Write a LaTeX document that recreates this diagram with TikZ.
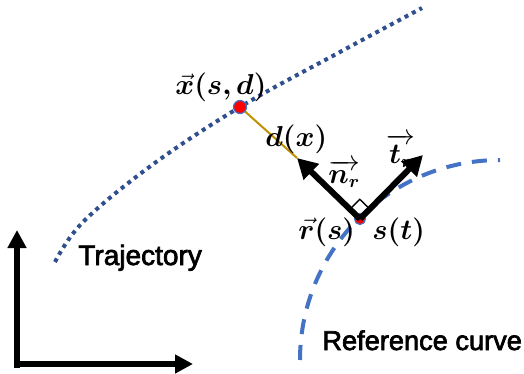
\documentclass[tikz,border=0pt]{standalone}
\usepackage{fontspec}
\setmainfont{Liberation Sans}
\newfontfamily\labelsans{Liberation Sans}[FakeBold=2.5]
\usepackage{amsmath,bm}
\usetikzlibrary{arrows.meta,calc}
\definecolor{trajblue}{HTML}{2F4F8F}
\definecolor{refblue}{HTML}{4472C4}
\definecolor{dgold}{HTML}{BF9000}
\begin{document}
\begin{tikzpicture}[x=0.5pt,y=-0.5pt,
 axis/.style={line width=3pt,-{Triangle[width=9pt,length=9pt]}},
 vecarrow/.style={line width=3pt,-{Triangle[width=10.5pt,length=10pt]}},
 traj/.style={color=trajblue,line width=2pt,dash pattern=on 2pt off 2.15pt},
 refc/.style={color=refblue,line width=2pt,dash pattern=on 7.5pt off 5.5pt},
 dline/.style={color=dgold,line width=1pt},
 ptbig/.style={circle,fill=red,draw=refblue,line width=0.6pt,inner sep=0pt,minimum size=6.5pt},
 ptsmall/.style={circle,fill=red,draw=refblue,line width=0.6pt,inner sep=0pt,minimum size=5.5pt},
 lab/.style={font=\fontsize{13.3}{15}\selectfont, inner sep=0pt, anchor=base west},
 txt/.style={inner sep=0pt, anchor=base west}]
\useasboundingbox (0,0) rectangle (524,374);

% axes
\coordinate (O1) at (17,368);
\coordinate (Ytip) at (17,230);
\coordinate (O2) at (14,364);
\coordinate (Xtip) at (193,364);
\draw[axis] (O1) -- (Ytip);
\draw[axis] (O2) -- (Xtip);

% trajectory
\draw[traj] plot[smooth,tension=0.6] coordinates {(55,262) (83,222) (152,165) (240,107) (340,52) (422,8)};

% reference curve
\coordinate (Rstart) at (300,360);
\draw[refc] (Rstart) arc[start angle=180,end angle=270,radius=200];

% points
\coordinate (X) at (240,107);
\coordinate (ntip) at (297,158);
\coordinate (ttip) at (423,155);
\draw[dline] (X) -- (ntip);
\node[ptbig] (Xdot) at (X) {};
\node[ptsmall] (S) at (360,219) {};

\draw[vecarrow] (S.center) -- (ntip);
\draw[vecarrow] (S.center) -- (ttip);

% right angle mark
\coordinate (c1) at ($(S.center)!7pt!(ntip)$);
\coordinate (c2) at ($(S.center)!7pt!(ttip)$);
\coordinate (c3) at ($(c1)+(c2)-(S.center)$);
\draw[line width=0.7pt] (c1) -- (c3) -- (c2);

% labels
\node[lab] (lx) at (175,95) {$\vec{\bm{x}}\bm{(s,d)}$};
\node[lab] (ld) at (265,147) {$\bm{d(x)}$};
\node[lab] (ln) at (328,183) {$\overrightarrow{\bm{n}_{\bm{r}}}$};
\node[lab] (lt) at (386,163) {$\overrightarrow{\bm{t}_{\bm{r}}}$};
\node[lab] (lr) at (298,239) {$\vec{\bm{r}}\bm{(s)}$};
\node[lab] (ls) at (372,239) {$\bm{s(t)}$};

\node[txt,font=\labelsans\fontsize{14}{16}\selectfont] (ttraj) at (78,265) {Trajectory};
\node[txt,font=\labelsans\fontsize{13.6}{16}\selectfont] (tref) at (322,350) {Reference curve};
\end{tikzpicture}
\end{document}
